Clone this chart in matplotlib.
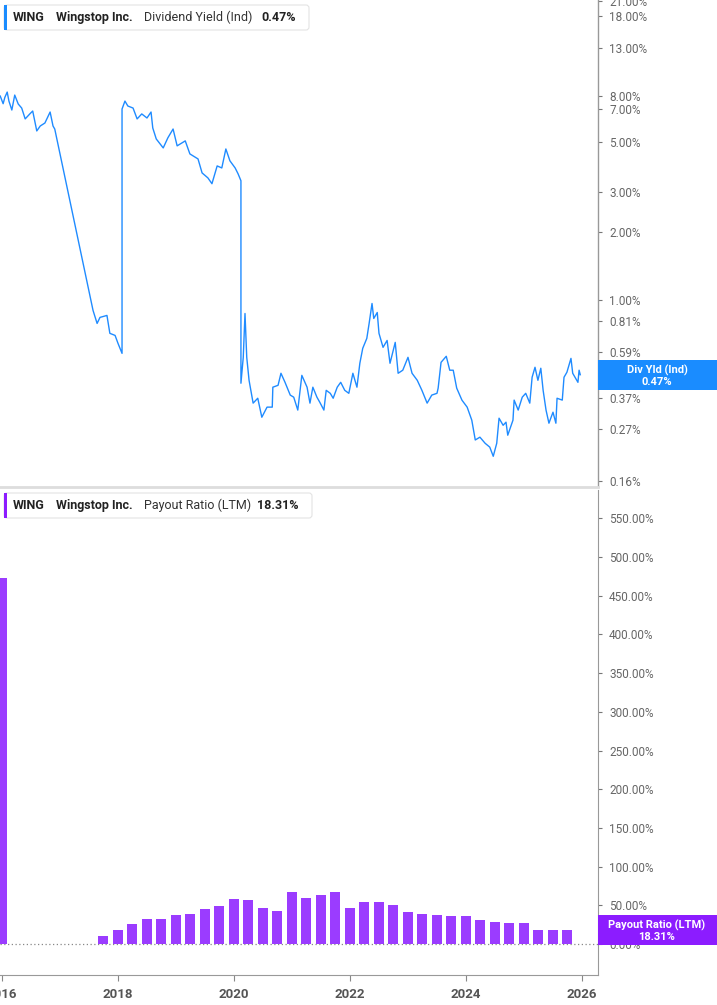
import matplotlib
matplotlib.use("Agg")
import matplotlib.pyplot as plt
import matplotlib.ticker as mticker
from matplotlib.patches import Rectangle, FancyBboxPatch
from matplotlib.transforms import IdentityTransform
import pandas as pd

plt.rcParams['font.family'] = ['Roboto', 'DejaVu Sans']

# ---------------- data ----------------
div_years = [2015.97, 2016.02, 2016.05, 2016.09, 2016.12, 2016.17, 2016.22, 2016.28, 2016.34, 2016.40,
             2016.48, 2016.53, 2016.60, 2016.66, 2016.74, 2016.83, 2016.88, 2016.91,
             2017.57, 2017.64, 2017.69, 2017.81, 2017.86, 2017.95, 2018.00, 2018.07,
             2018.07, 2018.12, 2018.17, 2018.26, 2018.33, 2018.41, 2018.50, 2018.57, 2018.60, 2018.66,
             2018.78, 2018.86, 2018.95, 2019.02, 2019.16, 2019.24, 2019.38, 2019.45, 2019.55, 2019.62,
             2019.71, 2019.79, 2019.86, 2019.93, 2020.02, 2020.07, 2020.12,
             2020.12, 2020.16, 2020.19, 2020.22, 2020.26, 2020.33, 2020.41, 2020.48, 2020.57, 2020.66,
             2020.67, 2020.76, 2020.81, 2020.88, 2020.97, 2021.03, 2021.10, 2021.17, 2021.26, 2021.31,
             2021.36, 2021.43, 2021.48, 2021.55, 2021.59, 2021.66, 2021.71, 2021.78, 2021.84, 2021.91,
             2021.98, 2022.05, 2022.12, 2022.17, 2022.22, 2022.29, 2022.33, 2022.38, 2022.41, 2022.47,
             2022.50, 2022.57, 2022.64, 2022.69, 2022.78, 2022.83, 2022.91, 2023.00, 2023.07, 2023.16,
             2023.24, 2023.33, 2023.41, 2023.50, 2023.52, 2023.57, 2023.66, 2023.72, 2023.78, 2023.84,
             2023.93, 2024.02, 2024.10, 2024.16, 2024.24, 2024.33, 2024.41, 2024.47, 2024.53, 2024.57,
             2024.64, 2024.69, 2024.72, 2024.81, 2024.83, 2024.90, 2024.97, 2025.03, 2025.10, 2025.14,
             2025.19, 2025.24, 2025.29, 2025.33, 2025.38, 2025.43, 2025.50, 2025.55, 2025.57, 2025.66,
             2025.69, 2025.74, 2025.81, 2025.84, 2025.93, 2025.95, 2025.97]
div_yield = [8.00, 7.40, 7.90, 8.33, 7.60, 6.94, 8.08, 7.38, 7.08, 6.34,
             6.67, 6.87, 5.61, 5.90, 6.08, 6.80, 5.90, 5.72,
             0.904, 0.792, 0.842, 0.859, 0.716, 0.701, 0.647, 0.584,
             7.01, 7.60, 7.23, 7.08, 6.34, 6.67, 6.40, 6.80, 5.78, 5.17,
             4.72, 5.23, 5.72, 4.82, 5.07, 4.44, 4.22, 3.66, 3.48, 3.28,
             3.93, 3.85, 4.67, 4.14, 3.85, 3.63, 3.38,
             0.431, 0.561, 0.876, 0.561, 0.444, 0.352, 0.370, 0.305, 0.338, 0.338,
             0.414, 0.422, 0.477, 0.435, 0.382, 0.374, 0.328, 0.467, 0.414, 0.352,
             0.414, 0.374, 0.355, 0.328, 0.401, 0.389, 0.370, 0.414, 0.435, 0.401,
             0.389, 0.477, 0.414, 0.528, 0.615, 0.680, 0.792, 0.970, 0.833, 0.885,
             0.716, 0.621, 0.666, 0.528, 0.653, 0.477, 0.492, 0.561, 0.477, 0.444,
             0.401, 0.352, 0.382, 0.389, 0.410, 0.533, 0.567, 0.492, 0.492, 0.410,
             0.363, 0.338, 0.296, 0.242, 0.249, 0.234, 0.225, 0.205, 0.234, 0.302,
             0.281, 0.290, 0.254, 0.296, 0.363, 0.328, 0.374, 0.389, 0.352, 0.458,
             0.507, 0.444, 0.502, 0.401, 0.328, 0.287, 0.321, 0.287, 0.370, 0.363,
             0.458, 0.482, 0.555, 0.477, 0.435, 0.492, 0.47]

payout_quarters = ["2015Q4",
                   "2017Q3", "2017Q4",
                   "2018Q1", "2018Q2", "2018Q3", "2018Q4",
                   "2019Q1", "2019Q2", "2019Q3", "2019Q4",
                   "2020Q1", "2020Q2", "2020Q3", "2020Q4",
                   "2021Q1", "2021Q2", "2021Q3", "2021Q4",
                   "2022Q1", "2022Q2", "2022Q3", "2022Q4",
                   "2023Q1", "2023Q2", "2023Q3", "2023Q4",
                   "2024Q1", "2024Q2", "2024Q3", "2024Q4",
                   "2025Q1", "2025Q2", "2025Q3"]
payout_ratio = [473.0,
                10.4, 17.8,
                26.0, 32.6, 32.6, 37.0,
                38.7, 45.0, 49.0, 58.0,
                57.0, 46.5, 43.0, 67.0,
                60.0, 64.0, 67.0, 47.0,
                54.0, 54.0, 51.0, 41.7,
                38.3, 37.4, 35.7, 35.7,
                30.9, 28.3, 27.8, 27.0,
                17.8, 18.7, 18.31]

yield_ticks = [21, 18, 13, 8, 7, 5, 3, 2, 1, 0.81, 0.59, 0.37, 0.27, 0.16]
payout_ticks = [0, 50, 100, 150, 200, 250, 300, 350, 400, 450, 500, 550]
year_ticks = [2016, 2018, 2020, 2022, 2024, 2026]

last_yield_label = "0.47%"
last_payout_label = "18.31%"

# ---------------- helpers ----------------
def quarter_to_year(q):
    end = pd.Period(q, freq="Q").end_time
    days = 366 if end.is_leap_year else 365
    return end.year + end.dayofyear / days

payout_x = [quarter_to_year(q) for q in payout_quarters]

W, H = 717, 1005
fig = plt.figure(figsize=(W / 100, H / 100), dpi=100)
fig.patch.set_facecolor("white")

def fbox(x0, y0, x1, y1):
    # pixel box (top-left origin) -> figure fraction rect
    return [x0 / W, 1 - y1 / H, (x1 - x0) / W, (y1 - y0) / H]

XMIN, XMAX = 2015.966, 2026.276
BLUE_LINE = "#1f8bff"
BLUE_BOX = "#1a8cff"
PURPLE_BAR = "#9b3cff"
PURPLE_BOX = "#8c1cff"

# ---------------- top panel ----------------
ax1 = fig.add_axes(fbox(0, 0, 598, 487))
ax1.plot(div_years, div_yield, color=BLUE_LINE, lw=1.0, solid_joinstyle="round")
ax1.set_yscale("log")
ax1.set_ylim(0.150, 21.25)
ax1.set_xlim(XMIN, XMAX)
ax1.yaxis.set_major_locator(mticker.FixedLocator(yield_ticks))
ax1.yaxis.set_minor_locator(mticker.NullLocator())
ax1.yaxis.set_major_formatter(mticker.FuncFormatter(lambda v, p: f"{v:.2f}%"))
ax1.yaxis.tick_right()
ax1.tick_params(axis="y", which="major", length=3, width=0.8, color="#777",
                labelcolor="#666", labelsize=8.5, pad=5)
ax1.tick_params(axis="x", bottom=False, labelbottom=False)
for s in ("top", "left"):
    ax1.spines[s].set_visible(False)
ax1.spines["right"].set_color("#999")
ax1.spines["right"].set_linewidth(1.0)
ax1.spines["bottom"].set_color("#dddddd")
ax1.spines["bottom"].set_linewidth(2.0)

# ---------------- bottom panel ----------------
ax2 = fig.add_axes(fbox(0, 490, 598, 975))
ax2.axhline(0, color="#888", lw=0.9, ls=(0, (1, 2)), zorder=1)
ax2.bar(payout_x, payout_ratio, width=0.17, color=PURPLE_BAR, edgecolor="none", zorder=2)
ax2.set_xlim(XMIN, XMAX)
ax2.set_ylim(-40.0, 586.6)
ax2.yaxis.set_major_locator(mticker.FixedLocator(payout_ticks))
ax2.yaxis.set_major_formatter(mticker.FuncFormatter(lambda v, p: f"{v:.2f}%"))
ax2.yaxis.tick_right()
ax2.tick_params(axis="y", length=3, width=0.8, color="#777",
                labelcolor="#666", labelsize=8.5, pad=5)
ax2.set_xticks(year_ticks)
ax2.set_xticklabels([str(y) for y in year_ticks], fontweight="bold")
ax2.tick_params(axis="x", length=4, width=0.8, color="#888",
                labelcolor="#555", labelsize=9.5, pad=5)
for s in ("top", "left"):
    ax2.spines[s].set_visible(False)
ax2.spines["right"].set_color("#999")
ax2.spines["bottom"].set_color("#999")

# ---------------- overlays (pixel coords) ----------------
T = IdentityTransform()

def px(x, y):
    return (x, H - y)

def value_box(y0, y1, color, line1, line2):
    fig.add_artist(Rectangle(px(598, y1), 717 - 598, y1 - y0, transform=T,
                             facecolor=color, edgecolor="none", zorder=5))
    fig.text(657 / W, 1 - (y0 + 10.5) / H, line1, color="white", fontsize=8,
             fontweight="bold", ha="center", va="center", zorder=6)
    fig.text(657 / W, 1 - (y0 + 21.5) / H, line2, color="white", fontsize=8,
             fontweight="bold", ha="center", va="center", zorder=6)

value_box(360, 390, BLUE_BOX, "Div Yld (Ind)", last_yield_label)
value_box(915, 945, PURPLE_BOX, "Payout Ratio (LTM)", last_payout_label)

def legend_box(y0, y1, x1, color, metric, value, value_x):
    fig.add_artist(FancyBboxPatch(px(4, y1), x1 - 4, y1 - y0, transform=T,
                                  boxstyle="round,pad=0,rounding_size=3",
                                  facecolor="white", edgecolor="#e3e3e3",
                                  lw=0.8, zorder=5))
    fig.add_artist(Rectangle(px(4, y1), 3, y1 - y0, transform=T,
                             facecolor=color, edgecolor="none", zorder=6))
    yc = 1 - ((y0 + y1) / 2) / H
    fig.text(13 / W, yc, "WING", fontsize=9, fontweight="bold", color="#222",
             ha="left", va="center", zorder=7)
    fig.text(56 / W, yc, "Wingstop Inc.", fontsize=9, fontweight="bold", color="#222",
             ha="left", va="center", zorder=7)
    fig.text(144 / W, yc, metric, fontsize=9, color="#333",
             ha="left", va="center", zorder=7)
    fig.text(value_x / W, yc, value, fontsize=9, fontweight="bold", color="#222",
             ha="left", va="center", zorder=7)

legend_box(5, 30, 309, BLUE_BOX, "Dividend Yield (Ind)", last_yield_label, 261)
legend_box(493, 518, 312, PURPLE_BOX, "Payout Ratio (LTM)", last_payout_label, 257)

fig.savefig("out.png", dpi=100, facecolor="white")
